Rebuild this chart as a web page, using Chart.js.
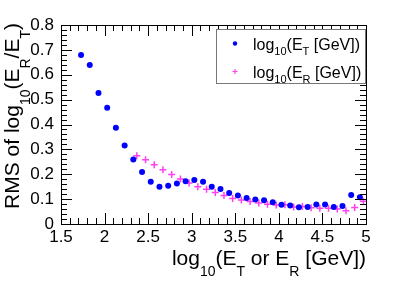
<!DOCTYPE html>
<html>
<head>
<meta charset="utf-8">
<script src="https://cdn.jsdelivr.net/npm/chart.js@4/dist/chart.umd.min.js"></script>
<style>
    html, body { margin: 0; padding: 0; background: #fff; }
    #wrap { position: relative; width: 395px; height: 286px; }
</style>
</head>
<body>
<div id="wrap"><canvas id="chart" width="395" height="286"></canvas></div>
<script>
const trueX = [1.73, 1.83, 1.93, 2.03, 2.13, 2.23, 2.33, 2.43, 2.53, 2.63, 2.73, 2.83, 2.93, 3.03, 3.13, 3.23, 3.33,
    3.43, 3.53, 3.63, 3.73, 3.83, 3.93, 4.03, 4.13, 4.23, 4.33, 4.43, 4.53, 4.63, 4.73, 4.83, 4.93];
const trueRms = [0.679, 0.639, 0.527, 0.467, 0.387, 0.316, 0.259, 0.209, 0.170, 0.150, 0.154, 0.163, 0.172, 0.177, 0.170, 0.150, 0.141,
    0.125, 0.115, 0.105, 0.098, 0.095, 0.087, 0.077, 0.074, 0.067, 0.068, 0.078, 0.078, 0.068, 0.072, 0.117, 0.108];

const recoX = [2.37, 2.47, 2.57, 2.67, 2.77, 2.87, 2.97, 3.07, 3.17, 3.27, 3.37, 3.47, 3.57, 3.67, 3.77, 3.87, 3.97,
    4.07, 4.17, 4.27, 4.37, 4.47, 4.57, 4.67, 4.77, 4.87, 4.97];
const recoRms = [0.274, 0.258, 0.238, 0.218, 0.199, 0.181, 0.165, 0.150, 0.140, 0.127, 0.115, 0.103, 0.096, 0.090, 0.084, 0.079, 0.076,
    0.077, 0.068, 0.070, 0.065, 0.063, 0.063, 0.060, 0.053, 0.066, 0.091];

const xRange = [1.5, 5];
const yRange = [0, 0.8];

const FONT = '"Liberation Sans", Arial, sans-serif';
const BLUE = '#0000ff';
const MAGENTA = '#ff40f0';

function toPoints(xs, ys) {
    return xs.map((x, i) => ({ x, y: ys[i] }));
}

// draws text pieces like [['log'], ['10', 'sub'], ['(E'] ...] left to right
function drawRich(ctx, parts, x, y, size, subSize, subDrop) {
    let cx = x;
    parts.forEach(([txt, kind]) => {
        const sub = kind === 'sub';
        ctx.font = `${sub ? subSize : size}px ${FONT}`;
        ctx.fillText(txt, cx, sub ? y + subDrop : y);
        cx += ctx.measureText(txt).width;
    });
    return cx - x;
}

function richWidth(ctx, parts, size, subSize) {
    let w = 0;
    parts.forEach(([txt, kind]) => {
        ctx.font = `${kind === 'sub' ? subSize : size}px ${FONT}`;
        w += ctx.measureText(txt).width;
    });
    return w;
}

const rootFrame = {
    id: 'rootFrame',
    afterDraw(chart) {
        const { ctx, chartArea: a, scales: { x, y } } = chart;
        ctx.save();
        ctx.strokeStyle = '#000';
        ctx.lineWidth = 1;

        // ticks inside the frame on all four sides
        ctx.beginPath();
        for (let i = 0; i <= 35; i++) {
            const v = xRange[0] + i * 0.1;
            const px = Math.round(x.getPixelForValue(v)) + 0.5;
            const len = i % 5 === 0 ? 11 : 6;
            ctx.moveTo(px, a.bottom);
            ctx.lineTo(px, a.bottom - len);
            ctx.moveTo(px, a.top);
            ctx.lineTo(px, a.top + len);
        }
        for (let i = 0; i <= 40; i++) {
            const v = i * 0.02;
            const py = Math.round(y.getPixelForValue(v)) + 0.5;
            const len = i % 5 === 0 ? 11 : 6;
            ctx.moveTo(a.left, py);
            ctx.lineTo(a.left + len, py);
            ctx.moveTo(a.right, py);
            ctx.lineTo(a.right - len, py);
        }
        ctx.stroke();
        ctx.strokeRect(Math.round(a.left) + 0.5, Math.round(a.top) + 0.5,
            Math.round(a.right - a.left), Math.round(a.bottom - a.top));

        // axis titles
        ctx.fillStyle = '#000';
        ctx.textBaseline = 'alphabetic';
        const xTitle = [['log'], ['10', 'sub'], ['(E'], ['T', 'sub'], [' or E'], ['R', 'sub'], [' [GeV])']];
        const xw = richWidth(ctx, xTitle, 21, 14);
        drawRich(ctx, xTitle, a.right - xw, 265, 21, 14, 11);

        const yTitle = [['RMS of log'], ['10', 'sub'], ['(E'], ['R', 'sub'], ['/E'], ['T', 'sub'], [')']];
        const yw = richWidth(ctx, yTitle, 21, 14);
        ctx.translate(19, 23 + yw);
        ctx.rotate(-Math.PI / 2);
        drawRich(ctx, yTitle, 0, 0, 21, 14, 11);
        ctx.restore();

        // legend box
        ctx.save();
        ctx.fillStyle = '#fff';
        ctx.fillRect(217, 29, 149, 54);
        ctx.strokeStyle = '#777';
        ctx.lineWidth = 1;
        ctx.strokeRect(216.5, 29.5, 149, 54);
        ctx.fillStyle = BLUE;
        ctx.beginPath();
        ctx.arc(235, 43.5, 2.2, 0, Math.PI * 2);
        ctx.fill();
        ctx.strokeStyle = MAGENTA;
        ctx.lineWidth = 1.2;
        ctx.beginPath();
        ctx.moveTo(232.5, 71.5); ctx.lineTo(237.5, 71.5);
        ctx.moveTo(235, 69); ctx.lineTo(235, 74);
        ctx.stroke();
        ctx.fillStyle = '#000';
        drawRich(ctx, [['log'], ['10', 'sub'], ['(E'], ['T', 'sub'], [' [GeV])']], 253, 50, 16, 11, 5);
        drawRich(ctx, [['log'], ['10', 'sub'], ['(E'], ['R', 'sub'], [' [GeV])']], 253, 78, 16, 11, 5);
        ctx.restore();
    }
};

new Chart(document.getElementById('chart'), {
    type: 'scatter',
    data: {
        datasets: [
            {
                label: 'true',
                data: toPoints(trueX, trueRms),
                pointStyle: 'circle',
                pointRadius: 3,
                pointBackgroundColor: BLUE,
                pointBorderColor: BLUE,
                pointBorderWidth: 0,
            },
            {
                label: 'reco',
                data: toPoints(recoX, recoRms),
                pointStyle: 'cross',
                pointRadius: 3.5,
                pointBorderColor: MAGENTA,
                pointBorderWidth: 1.5,
            },
        ],
    },
    options: {
        responsive: false,
        animation: false,
        layout: { padding: { left: 0, top: 25, right: 29, bottom: 0 } },
        plugins: { legend: { display: false }, tooltip: { enabled: false } },
        scales: {
            x: {
                type: 'linear',
                min: xRange[0],
                max: xRange[1],
                grid: { display: false, drawTicks: false },
                border: { display: false },
                ticks: {
                    stepSize: 0.5,
                    padding: 3,
                    color: '#000',
                    font: { family: FONT, size: 17 },
                    callback: (v) => String(Number(v.toFixed(1))),
                },
                afterFit(scale) { scale.height = 62; },
            },
            y: {
                min: yRange[0],
                max: yRange[1],
                grid: { display: false, drawTicks: false },
                border: { display: false },
                ticks: {
                    stepSize: 0.1,
                    padding: 7,
                    color: '#000',
                    font: { family: FONT, size: 17 },
                    callback: (v) => String(Number(v.toFixed(1))),
                },
                afterFit(scale) { scale.width = 61; },
            },
        },
    },
    plugins: [rootFrame],
});
</script>
</body>
</html>
